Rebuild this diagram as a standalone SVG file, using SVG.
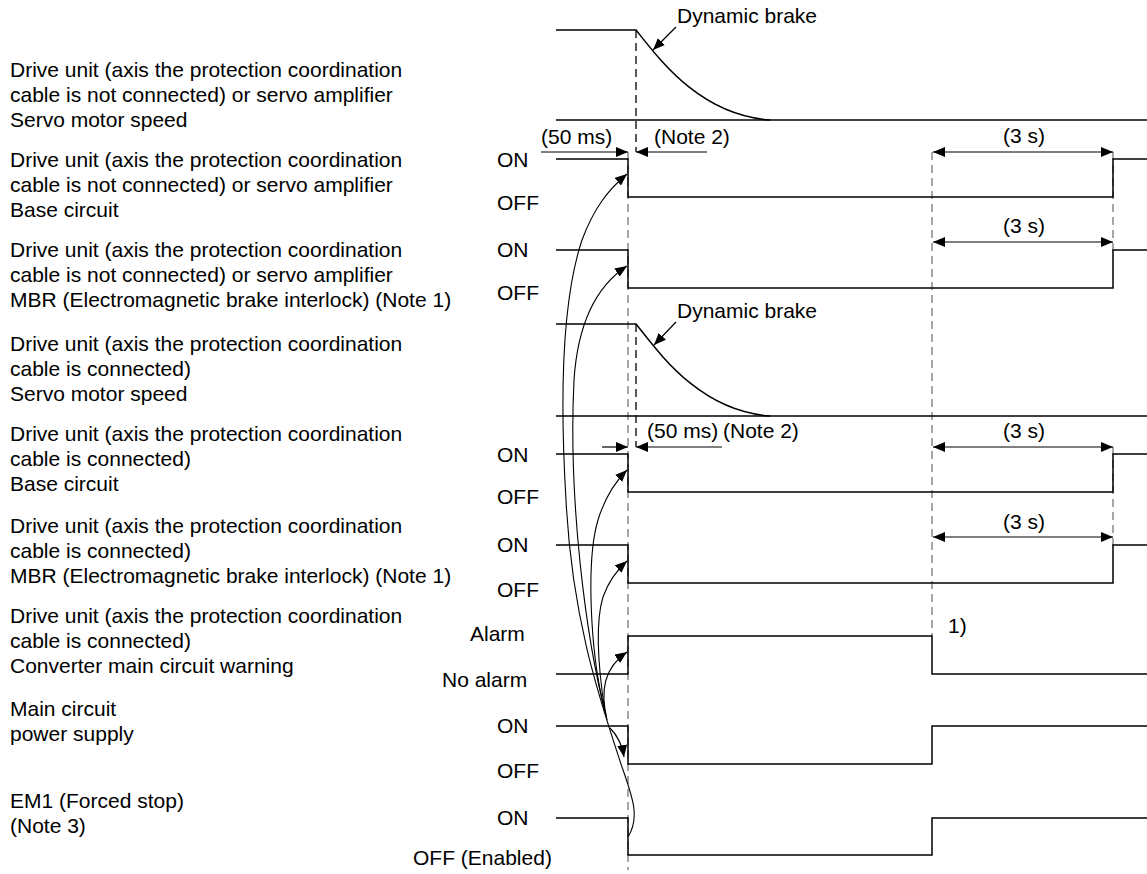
<svg xmlns="http://www.w3.org/2000/svg" width="1147" height="874" viewBox="0 0 1147 874">
<defs>
<style>
text{font-family:"Liberation Sans",Arial,sans-serif;font-size:21px;fill:#000}
.sig{fill:none;stroke:#000;stroke-width:1.5}
.dg{fill:none;stroke:#777;stroke-width:1.3;stroke-dasharray:8,5}
.db{fill:none;stroke:#000;stroke-width:1.3;stroke-dasharray:8,5}
.dim{fill:none;stroke:#000;stroke-width:1.2}
.cv{fill:none;stroke:#000;stroke-width:1.1}
</style>
<marker id="ah" viewBox="0 0 12 10" refX="12" refY="5" markerWidth="12" markerHeight="10" markerUnits="userSpaceOnUse" orient="auto">
<path d="M0,0 L12,5 L0,10 Z" fill="#000"/>
</marker>
<marker id="ahs" viewBox="0 0 12 10" refX="12" refY="5" markerWidth="12" markerHeight="10" markerUnits="userSpaceOnUse" orient="auto-start-reverse">
<path d="M0,0 L12,5 L0,10 Z" fill="#000"/>
</marker>
</defs>

<g id="labels">
<text x="10" y="77">Drive unit (axis the protection coordination</text>
<text x="10" y="102">cable is not connected) or servo amplifier</text>
<text x="10" y="127">Servo motor speed</text>
<text x="10" y="167">Drive unit (axis the protection coordination</text>
<text x="10" y="192">cable is not connected) or servo amplifier</text>
<text x="10" y="217">Base circuit</text>
<text x="10" y="257">Drive unit (axis the protection coordination</text>
<text x="10" y="282">cable is not connected) or servo amplifier</text>
<text x="10" y="307">MBR (Electromagnetic brake interlock) (Note 1)</text>
<text x="10" y="351">Drive unit (axis the protection coordination</text>
<text x="10" y="376">cable is connected)</text>
<text x="10" y="401">Servo motor speed</text>
<text x="10" y="441">Drive unit (axis the protection coordination</text>
<text x="10" y="466">cable is connected)</text>
<text x="10" y="491">Base circuit</text>
<text x="10" y="533">Drive unit (axis the protection coordination</text>
<text x="10" y="558">cable is connected)</text>
<text x="10" y="583">MBR (Electromagnetic brake interlock) (Note 1)</text>
<text x="10" y="623">Drive unit (axis the protection coordination</text>
<text x="10" y="648">cable is connected)</text>
<text x="10" y="673">Converter main circuit warning</text>
<text x="10" y="716">Main circuit</text>
<text x="10" y="741">power supply</text>
<text x="10" y="808">EM1 (Forced stop)</text>
<text x="10" y="833">(Note 3)</text>
</g>

<g id="levels">
<text x="497" y="167">ON</text>
<text x="497" y="210">OFF</text>
<text x="497" y="257">ON</text>
<text x="497" y="300">OFF</text>
<text x="497" y="462">ON</text>
<text x="497" y="504">OFF</text>
<text x="497" y="552">ON</text>
<text x="497" y="597">OFF</text>
<text x="470" y="641">Alarm</text>
<text x="442" y="687">No alarm</text>
<text x="497" y="733">ON</text>
<text x="497" y="778">OFF</text>
<text x="497" y="825">ON</text>
<text x="413" y="865">OFF (Enabled)</text>
</g>

<g id="dashes">
<line class="db" x1="636" y1="30" x2="636" y2="152"/>
<line class="dg" x1="628" y1="152" x2="628" y2="870"/>
<line class="db" x1="636" y1="324" x2="636" y2="447"/>
<line class="dg" x1="932" y1="152" x2="932" y2="636"/>
<line class="dg" x1="1113" y1="152" x2="1113" y2="252"/>
<line class="dg" x1="1113" y1="447" x2="1113" y2="547"/>
</g>

<g id="speed1">
<path class="sig" d="M556,30 H636 C660,60 700,115 770,120"/>
<line class="sig" x1="556" y1="120" x2="1147" y2="120"/>
<text x="677" y="23">Dynamic brake</text>
<line class="dim" x1="676" y1="27" x2="653" y2="50" marker-end="url(#ah)"/>
</g>

<g id="base1">
<path class="sig" d="M556,159 H628 V197 H1113 V159 H1147"/>
</g>
<g id="mbr1">
<path class="sig" d="M556,250 H628 V288 H1113 V250 H1147"/>
</g>

<g id="speed2">
<path class="sig" d="M556,324 H636 C660,354 700,411 770,416"/>
<line class="sig" x1="556" y1="416" x2="1147" y2="416"/>
<text x="677" y="318">Dynamic brake</text>
<line class="dim" x1="676" y1="322" x2="654" y2="345" marker-end="url(#ah)"/>
</g>

<g id="base2">
<path class="sig" d="M556,454 H628 V492 H1113 V454 H1147"/>
</g>
<g id="mbr2">
<path class="sig" d="M556,545 H628 V583 H1113 V545 H1147"/>
</g>
<g id="alarm">
<path class="sig" d="M556,674 H628 V636 H932 V674 H1147"/>
<text x="948" y="633">1)</text>
</g>
<g id="main">
<path class="sig" d="M556,726 H628 V764 H932 V726 H1147"/>
</g>
<g id="em1">
<path class="sig" d="M556,818 H628 V855 H932 V818 H1147"/>
</g>

<g id="dims">
<text x="541" y="144">(50 ms)</text>
<text x="654" y="144">(Note 2)</text>
<line class="dim" x1="541" y1="152" x2="628" y2="152" marker-end="url(#ah)"/>
<line class="dim" x1="707" y1="152" x2="636" y2="152" marker-end="url(#ah)"/>
<text x="647" y="438">(50 ms)</text>
<text x="723" y="438">(Note 2)</text>
<line class="dim" x1="602" y1="447" x2="628" y2="447" marker-end="url(#ah)"/>
<line class="dim" x1="722" y1="447" x2="636" y2="447" marker-end="url(#ah)"/>
<text x="1003" y="143">(3 s)</text>
<line class="dim" x1="933" y1="152" x2="1113" y2="152" marker-start="url(#ahs)" marker-end="url(#ah)"/>
<text x="1003" y="233">(3 s)</text>
<line class="dim" x1="933" y1="242" x2="1113" y2="242" marker-start="url(#ahs)" marker-end="url(#ah)"/>
<text x="1003" y="438">(3 s)</text>
<line class="dim" x1="933" y1="447" x2="1113" y2="447" marker-start="url(#ahs)" marker-end="url(#ah)"/>
<text x="1003" y="529">(3 s)</text>
<line class="dim" x1="933" y1="537" x2="1113" y2="537" marker-start="url(#ahs)" marker-end="url(#ah)"/>
</g>

<g id="connectors">
<path class="cv" d="M628,837 C640,818 633,798 622,767 C600,700 572,620 566,500 C560,400 562,300 582,240 C594,208 608,190 627,174" marker-end="url(#ah)"/>
<path class="cv" d="M606,715 C586,640 568,500 574,380 C578,320 598,285 627,266" marker-end="url(#ah)"/>
<path class="cv" d="M604,708 C590,650 586,560 598,520 C605,497 614,483 627,470" marker-end="url(#ah)"/>
<path class="cv" d="M605,712 C597,660 596,620 603,597 C609,580 617,570 627,561" marker-end="url(#ah)"/>
<path class="cv" d="M607,720 C600,690 604,668 627,652" marker-end="url(#ah)"/>
<path class="cv" d="M610,728 C617,735 622,744 624,757" marker-end="url(#ah)"/>
</g>
</svg>
